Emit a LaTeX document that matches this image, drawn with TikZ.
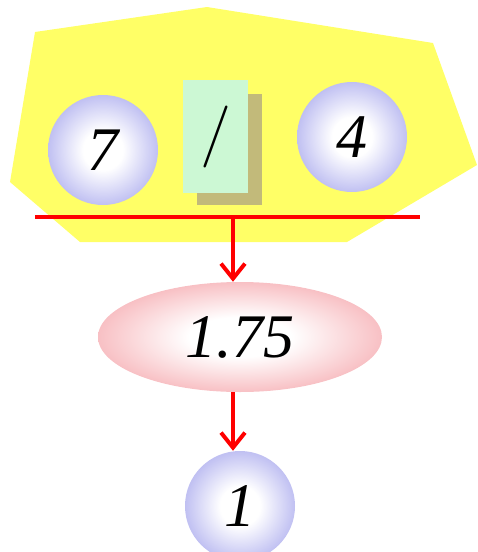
\documentclass[tikz,border=0pt]{standalone}
\usepackage{fontspec}
\setmainfont{Liberation Serif}
\newfontfamily\opfont{lmroman10-regular.otf}
\usepackage{xcolor}
\usepackage{tikz}
\usetikzlibrary{arrows.meta, shapes.geometric}

\definecolor{hullyellow}{HTML}{FFFF66}
\definecolor{ballblue}{HTML}{C0C0F2}
\definecolor{opgreen}{HTML}{CCF8D4}
\definecolor{opshadow}{HTML}{C2BA7A}
\definecolor{respink}{HTML}{F8C0C4}

% soft radial fills, white spread wide in the middle
\pgfdeclareradialshading{ballfill}{\pgfpoint{0bp}{0bp}}{color(0bp)=(white); color(9bp)=(white); color(25bp)=(ballblue); color(50bp)=(ballblue)}
\pgfdeclareradialshading{resfill}{\pgfpoint{0bp}{0bp}}{color(0bp)=(white); color(9bp)=(white); color(25bp)=(respink); color(50bp)=(respink)}

\begin{document}
\begin{tikzpicture}[
    x=1pt, y=-1pt,
    font=\fontsize{62}{70}\selectfont\itshape,
    ball/.style={circle, minimum size=110pt, inner sep=0pt, shading=ballfill},
    opbox/.style={rectangle, minimum width=65pt, minimum height=113pt, inner sep=0pt, fill=opgreen},
    result/.style={ellipse, minimum width=284pt, minimum height=110pt, inner sep=0pt, shading=resfill},
    link/.style={-{Straight Barb[length=15pt, width=24pt, line width=4pt]}, line width=4pt, red},
    bar/.style={line width=4pt, red}
]
\useasboundingbox (0,0) rectangle (477,552);

% Expression hull
\fill[hullyellow] (35,32) -- (207,7) -- (433,43) -- (477,165) -- (347,242)
    -- (80,242) -- (10,182) -- cycle;

% Operands and operator
\node[ball] (lhs) at (103,150) {7};
\node[ball] (rhs) at (352,137) {4};
\fill[opshadow] (197,94) rectangle (262,205);
\node[opbox] (op) at (215.5,136.5) {\opfont\upshape /};

% Evaluation
\coordinate (barL) at (35,217);
\coordinate (barR) at (420,217);
\coordinate (barmid) at (233,217);
\draw[bar] (barL) -- (barR);

\node[result] (res) at (240,337) {1.75};
\node[ball] (out) at (240,506) {1};

\draw[link] (barmid) -- (barmid |- res.north);
\draw[link] (barmid |- res.south) -- (barmid |- out.north);

\end{tikzpicture}
\end{document}
